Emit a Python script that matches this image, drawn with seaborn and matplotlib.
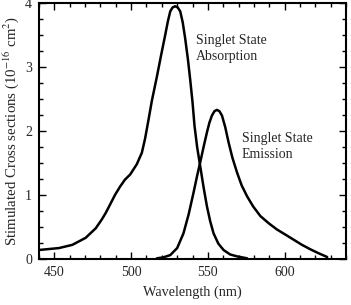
import numpy as np
import pandas as pd
import matplotlib
matplotlib.use("Agg")
import matplotlib.pyplot as plt
import seaborn as sns
from matplotlib.ticker import MultipleLocator

################ DATA ################
abs_wl = [440, 453, 461.7, 470.4, 477, 481, 483.5, 486.3, 489.5, 492.8,
          496, 499.4, 503.7, 507, 509.1, 511.3, 513.5, 516.8, 519.5, 522.2,
          524, 525.5, 527, 528.7, 530.4, 532, 533.6, 535.2, 537, 538.5,
          540, 541.3, 543, 545, 547.2, 549.4, 551.5, 553.7, 556.8, 560.2,
          564.5, 569, 575.5]
abs_val = [0.14, 0.17, 0.22, 0.33, 0.48, 0.62, 0.72, 0.85, 1.0, 1.13,
           1.24, 1.32, 1.48, 1.66, 1.88, 2.17, 2.47, 2.85, 3.18, 3.5,
           3.72, 3.87, 3.93, 3.95, 3.93, 3.87, 3.70, 3.45, 3.12, 2.80,
           2.45, 2.08, 1.75, 1.45, 1.12, 0.82, 0.59, 0.40, 0.24, 0.14,
           0.07, 0.04, 0.01]

em_wl = [516.8, 521, 525.5, 530, 534.1, 537.5, 540.6, 543, 545, 547.2,
         549.4, 551, 552.6, 554.3, 555.9, 557.5, 559.2, 561.3, 563.5, 566,
         569, 572, 575.5, 579.5, 584.2, 589.5, 595, 600.5, 605.9, 611.3,
         616.8, 622, 627.7]
em_val = [0.01, 0.025, 0.06, 0.17, 0.40, 0.70, 1.03, 1.30, 1.51, 1.75,
          1.98, 2.13, 2.24, 2.31, 2.33, 2.31, 2.24, 2.06, 1.82, 1.58,
          1.35, 1.15, 0.98, 0.82, 0.67, 0.56, 0.46, 0.38, 0.30, 0.22,
          0.15, 0.09, 0.03]

abs_label = "Singlet State\nAbsorption"
em_label = "Singlet State\nEmission"

################ STYLE ################
sns.set_style("ticks")
plt.rcParams['font.family'] = ['Liberation Serif', 'DejaVu Serif']
plt.rcParams['mathtext.fontset'] = 'stix'

fig, ax = plt.subplots(figsize=(3.51, 3.05), dpi=100)
fig.subplots_adjust(left=0.111, right=0.986, top=0.99, bottom=0.151)

df_abs = pd.DataFrame({'wl': abs_wl, 'val': abs_val})
df_em = pd.DataFrame({'wl': em_wl, 'val': em_val})

sns.lineplot(data=df_abs, x='wl', y='val', ax=ax, color='black', lw=1.8)
sns.lineplot(data=df_em, x='wl', y='val', ax=ax, color='black', lw=1.8)

ax.text(542, 3.52, abs_label, fontsize=10, va='top', ha='left', linespacing=1.3)
ax.text(572, 1.98, em_label, fontsize=10, va='top', ha='left', linespacing=1.3)

ax.set_xlim(440, 640)
ax.set_ylim(0, 4)
ax.xaxis.set_major_locator(MultipleLocator(50))
ax.xaxis.set_minor_locator(MultipleLocator(10))
ax.yaxis.set_major_locator(MultipleLocator(1))
ax.yaxis.set_minor_locator(MultipleLocator(0.25))
ax.tick_params(which='both', direction='in', top=True, right=True,
               labelsize=10, width=1, color='black', pad=5)
ax.tick_params(which='major', length=5)
ax.tick_params(which='minor', length=3)
for sp in ax.spines.values():
    sp.set_linewidth(1.5)
    sp.set_color('black')

ax.set_xlabel("Wavelength (nm)", fontsize=10.3, labelpad=5)
ax.set_ylabel("Stimulated Cross sections (10$^{-16}$ cm$^{2}$)", fontsize=10.7, labelpad=3)

plt.savefig("out.png", dpi=100)
